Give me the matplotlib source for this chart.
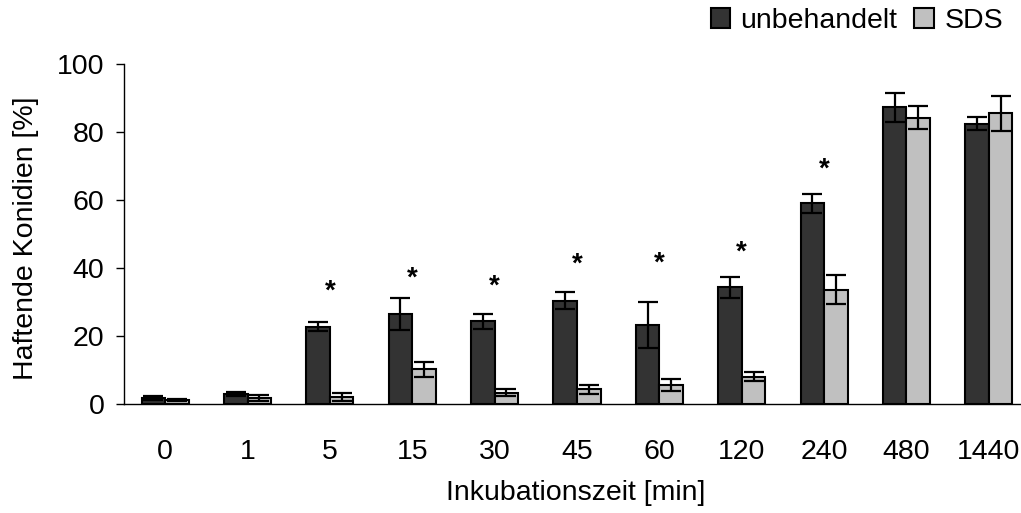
import numpy as np
import matplotlib
matplotlib.use("Agg")
import matplotlib.pyplot as plt

plt.rcParams["font.family"] = ["Liberation Sans", "DejaVu Sans"]

# Incubation times (categories)
categories = ["0", "1", "5", "15", "30", "45", "60", "120", "240", "480", "1440"]

# Adhering conidia [%] – untreated vs. SDS, with standard deviations
untreated = [1.8, 3.0, 22.7, 26.5, 24.3, 30.4, 23.3, 34.3, 59.0, 87.3, 82.5]
untreated_err = [0.6, 0.6, 1.3, 4.6, 2.1, 2.6, 6.7, 3.2, 2.7, 4.3, 1.9]
sds = [1.3, 1.8, 2.0, 10.2, 3.3, 4.3, 5.6, 8.0, 33.6, 84.2, 85.5]
sds_err = [0.3, 0.8, 1.2, 2.2, 1.0, 1.3, 1.9, 1.3, 4.3, 3.4, 5.2]

# Significance markers: category index and height of the asterisk
sig_idx = [2, 3, 4, 5, 6, 7, 8]
sig_y = [33.0, 36.8, 34.5, 40.9, 41.4, 44.6, 68.8]

yticks = [0, 20, 40, 60, 80, 100]

fig = plt.figure(figsize=(10.21, 5.13), dpi=100)
ax = fig.add_axes([124 / 1021, 109 / 513, 906 / 1021, 340 / 513])

x = np.arange(len(categories))
w = 0.286

dark = "#333333"
light = "#c0c0c0"
fs = 20.5

ax.bar(x - w / 2, untreated, width=w, color=dark, edgecolor="black",
       linewidth=1.5, label="unbehandelt", zorder=2)
ax.bar(x + w / 2, sds, width=w, color=light, edgecolor="black",
       linewidth=1.5, label="SDS", zorder=2)

ax.errorbar(x - w / 2, untreated, yerr=untreated_err, fmt="none",
            ecolor="black", elinewidth=1.6, capsize=7, capthick=1.6, zorder=3)
ax.errorbar(x + w / 2, sds, yerr=sds_err, fmt="none",
            ecolor="black", elinewidth=1.6, capsize=7, capthick=1.6, zorder=3)

for i, yv in zip(sig_idx, sig_y):
    ax.text(x[i], yv, "*", ha="center", va="center", fontsize=20,
            fontweight="bold", color="black")

ax.set_xlim(-0.5, len(categories) - 0.5)
ax.set_ylim(0, 100)
ax.set_yticks(yticks)
ax.set_xticks(x)
ax.set_xticklabels(categories)

for side in ("top", "right"):
    ax.spines[side].set_visible(False)
for side in ("left", "bottom"):
    ax.spines[side].set_linewidth(1.0)

ax.tick_params(axis="y", direction="out", length=6, width=1.0, pad=8,
               labelsize=fs)
ax.tick_params(axis="x", length=0, pad=25, labelsize=fs)

ax.set_xlabel("Inkubationszeit [min]", fontsize=fs)
ax.xaxis.set_label_coords(0.498, -0.225)
ax.set_ylabel("Haftende Konidien [%]", fontsize=fs)
ax.yaxis.set_label_coords(-0.094, 0.488)

fig.legend(loc="upper right", bbox_to_anchor=(1003 / 1021, 1 - 8 / 513),
           ncol=2, frameon=False, fontsize=fs, handlelength=0.7,
           handleheight=0.7, handletextpad=0.35, columnspacing=0.6,
           borderaxespad=0, borderpad=0)

fig.savefig("out.png", dpi=100, facecolor="white")
